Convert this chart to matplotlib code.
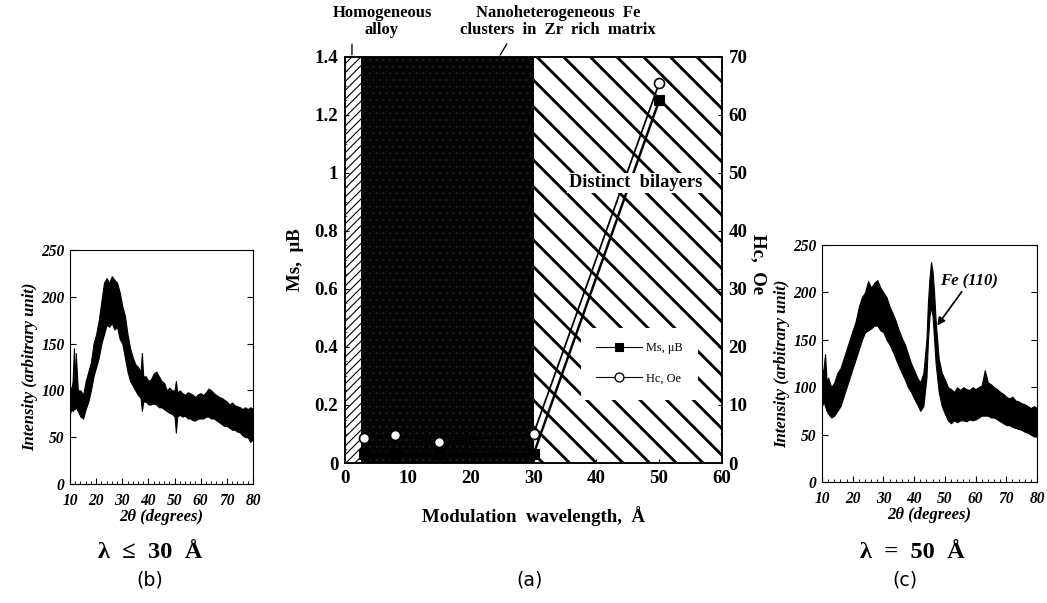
import matplotlib
matplotlib.use('Agg')
import matplotlib.pyplot as plt
from matplotlib.ticker import MultipleLocator
from matplotlib.lines import Line2D

# ---------------- data ----------------
region_edges = [0, 2.5, 30, 60]          # homogeneous | nanoheterogeneous | bilayers
wavelength = [3, 8, 15, 30, 50]          # modulation wavelength, Å
ms_values = [0.03, 0.03, 0.03, 0.03, 1.25]   # Ms, μB
hc_values = [4.3, 4.8, 3.6, 5.0, 65.5]       # Hc, Oe
x_ticks = [0, 10, 20, 30, 40, 50, 60]
ms_ticks = [0, 0.2, 0.4, 0.6, 0.8, 1.0, 1.2, 1.4]
ms_tick_labels = ['0', '0.2', '0.4', '0.6', '0.8', '1', '1.2', '1.4']
hc_ticks = [0, 10, 20, 30, 40, 50, 60, 70]

# XRD (b): lambda <= 30 A  -- noisy band, upper / lower envelope
b_x = [10, 10.5, 11, 11.5, 11.8, 12.2, 13, 14, 15, 16, 17, 18, 19, 20, 21, 22, 23, 24, 25, 26,
       27, 28, 29, 30, 31, 32, 33, 34, 35, 36, 37, 37.5, 38, 39, 40, 41, 42, 43, 44, 45,
       46, 47, 48, 49, 50, 50.5, 51, 52, 53, 54, 55, 56, 57, 58, 59, 60, 61, 62, 63, 64,
       65, 66, 67, 68, 69, 70, 71, 72, 73, 74, 75, 76, 77, 78, 79, 80]
b_up = [105, 100, 110, 145, 100, 140, 100, 100, 95, 110, 120, 130, 150, 160, 175, 195, 215, 220, 215, 222,
        218, 215, 205, 190, 180, 160, 145, 135, 128, 125, 120, 140, 115, 115, 110, 112, 118, 120, 115, 110,
        108, 100, 103, 100, 100, 110, 98, 100, 97, 95, 98, 97, 95, 93, 96, 97, 95, 98, 102, 100,
        97, 95, 93, 92, 90, 88, 85, 87, 84, 83, 82, 80, 82, 80, 82, 80]
b_lo = [75, 80, 78, 80, 80, 82, 78, 72, 70, 80, 88, 100, 115, 125, 135, 150, 160, 170, 168, 172,
        165, 168, 155, 150, 135, 120, 110, 105, 100, 95, 92, 78, 88, 88, 85, 85, 86, 85, 82, 82,
        80, 78, 76, 75, 72, 55, 72, 74, 72, 73, 70, 70, 68, 68, 70, 70, 70, 72, 72, 70,
        70, 68, 66, 64, 62, 62, 60, 58, 58, 56, 55, 52, 50, 50, 45, 48]

# XRD (c): lambda = 50 A
c_x = [10, 10.5, 11, 11.5, 12, 13, 14, 15, 16, 17, 18, 19, 20, 21, 22, 23, 24, 25, 26, 27,
       28, 29, 30, 31, 32, 33, 34, 35, 36, 37, 38, 39, 40, 41, 42, 43, 44, 44.5, 45, 45.5,
       46, 46.5, 47, 48, 49, 50, 51, 52, 53, 54, 55, 56, 57, 58, 59, 60, 61, 62, 63, 64,
       65, 66, 67, 68, 69, 70, 71, 72, 73, 74, 75, 76, 77, 78, 79, 80]
c_up = [110, 120, 135, 105, 110, 100, 105, 115, 120, 130, 140, 150, 160, 170, 185, 195, 200, 212, 205, 210,
        213, 205, 200, 195, 185, 178, 170, 160, 152, 145, 135, 125, 118, 110, 105, 115, 150, 190, 215, 232,
        222, 200, 170, 130, 115, 108, 100, 98, 95, 100, 97, 100, 98, 97, 100, 98, 100, 102, 118, 105,
        103, 100, 98, 95, 93, 90, 88, 90, 86, 85, 83, 82, 80, 78, 80, 78]
c_lo = [80, 85, 80, 75, 72, 68, 70, 75, 80, 90, 100, 110, 120, 130, 140, 150, 158, 160, 162, 165,
        165, 160, 158, 150, 145, 138, 130, 122, 115, 108, 100, 95, 88, 82, 75, 80, 110, 150, 175, 185,
        175, 150, 125, 95, 80, 72, 65, 62, 65, 63, 65, 65, 64, 66, 65, 66, 68, 70, 70, 70,
        68, 68, 66, 64, 62, 60, 60, 58, 57, 56, 55, 53, 52, 50, 48, 48]
xrd_x_ticks = [10, 20, 30, 40, 50, 60, 70, 80]
xrd_y_ticks = [0, 50, 100, 150, 200, 250]

# ---------------- figure ----------------
DPI = 80
W, H = 1047, 603
plt.rcParams['font.family'] = ['Liberation Serif', 'DejaVu Serif']
plt.rcParams['font.weight'] = 'bold'
plt.rcParams['axes.labelweight'] = 'bold'
plt.rcParams['axes.linewidth'] = 1.4
fig = plt.figure(figsize=(W / DPI, H / DPI), dpi=DPI)


def fr(x0, y_top, x1, y_bot):
    return [x0 / W, 1 - y_bot / H, (x1 - x0) / W, (y_bot - y_top) / H]


ax = fig.add_axes(fr(345, 57, 722, 463))
ax.set_xlim(region_edges[0], region_edges[-1])
ax.set_ylim(0, 1.4)


def span(a, b, face, hatch, hcol, hlw):
    with plt.rc_context({'hatch.linewidth': hlw}):
        p = ax.axvspan(a, b, facecolor=face, edgecolor=hcol, hatch=hatch, lw=0, zorder=0.5)
    try:
        p.set_hatch_linewidth(hlw)
    except Exception:
        pass
    return p


span(region_edges[0], region_edges[1], 'white', '///', 'black', 1.0)
span(region_edges[1], region_edges[2], '#040404', '..', '#262626', 0.5)
span(region_edges[2], region_edges[3], 'white', '\\', 'black', 2.6)

ax.plot(wavelength, ms_values, color='black', lw=2.2, marker='s', ms=9,
        mfc='black', mec='black', zorder=3, clip_on=False)
ax2 = ax.twinx()
ax2.set_ylim(0, 70)
ax2.plot(wavelength, hc_values, color='black', lw=1.6, marker='o', ms=9,
         mfc='white', mec='black', mew=1.5, zorder=3, clip_on=False)

ax.set_xticks(x_ticks)
ax.set_yticks(ms_ticks)
ax.set_yticklabels(ms_tick_labels)
ax2.set_yticks(hc_ticks)
for a in (ax, ax2):
    a.tick_params(direction='in', length=4, width=1, labelsize=17, pad=6)
ax.yaxis.set_minor_locator(MultipleLocator(0.05))
ax2.yaxis.set_minor_locator(MultipleLocator(2.5))
ax.tick_params(which='minor', direction='in', length=2)
ax2.tick_params(which='minor', direction='in', length=2)

ax.set_xlabel('Modulation  wavelength,  Å', fontsize=17, fontweight='bold')
ax.set_ylabel('Ms,  μB', fontsize=17, fontweight='bold')
ax2.set_ylabel('Hc,  Oe', fontsize=17, fontweight='bold', rotation=-90, va='center')
ax.xaxis.set_label_coords(0.5, -0.105)
ax.yaxis.set_label_coords(-0.108, 0.5)
ax2.yaxis.set_label_coords(1.095, 0.49)

handles = [Line2D([], [], color='black', lw=1, marker='s', ms=8, mfc='black'),
           Line2D([], [], color='black', lw=1, marker='o', ms=8, mfc='white', mew=1.2)]
leg = ax2.legend(handles, ['Ms, μB', 'Hc, Oe'], loc='center', bbox_to_anchor=(0.78, 0.245),
                 frameon=True, fancybox=False, framealpha=1, edgecolor='white',
                 prop={'family': 'Liberation Serif', 'weight': 'normal', 'size': 11},
                 handlelength=3.8, labelspacing=1.5, borderpad=1.2, handletextpad=0.3)
leg.set_zorder(5)

ax2.text(46.2, 0.966 * 50, 'Distinct  bilayers', ha='center', va='center', fontsize=16.5,
         zorder=6, bbox=dict(facecolor='white', edgecolor='none', pad=1.5))

fig.text(382 / W, 1 - 5 / H, 'Homogeneous\nalloy', ha='center', va='top', fontsize=15,
         linespacing=1.05)
fig.text(558 / W, 1 - 5 / H, 'Nanoheterogeneous  Fe\nclusters  in  Zr  rich  matrix',
         ha='center', va='top', fontsize=15, linespacing=1.05)
ax.annotate('', xy=(1.1, 1.4), xycoords='data', xytext=(352, H - 42), textcoords='figure pixels',
            arrowprops=dict(arrowstyle='-', lw=1.2, color='black'), annotation_clip=False)
ax.annotate('', xy=(24.5, 1.4), xycoords='data', xytext=(508, H - 42), textcoords='figure pixels',
            arrowprops=dict(arrowstyle='-', lw=1.2, color='black'), annotation_clip=False)

fig.text(530 / W, 1 - 580 / H, '(a)', ha='center', va='center', fontsize=17,
         family='DejaVu Sans', weight='normal')


def xrd(rect, x, lo, up):
    a = fig.add_axes(rect)
    a.fill_between(x, lo, up, color='black', lw=1.0, edgecolor='black')
    a.set_xlim(10, 80)
    a.set_ylim(0, 250)
    a.set_xticks(xrd_x_ticks)
    a.set_yticks(xrd_y_ticks)
    a.xaxis.set_minor_locator(MultipleLocator(2))
    a.tick_params(direction='in', length=5, width=1, labelsize=14, pad=3, right=True)
    a.tick_params(axis='x', pad=8)
    a.tick_params(axis='y', pad=5)
    a.tick_params(which='minor', direction='in', length=3, width=0.8)
    for lab in a.get_xticklabels() + a.get_yticklabels():
        lab.set_style('italic')
    for s in a.spines.values():
        s.set_linewidth(1.0)
    a.set_xlabel('2θ (degrees)', fontsize=15, style='italic', labelpad=0)
    a.set_ylabel('Intensity (arbitrary unit)', fontsize=15, style='italic', labelpad=3)
    return a


axb = xrd(fr(70, 250, 253, 484), b_x, b_lo, b_up)
axc = xrd(fr(822, 245, 1037, 482), c_x, c_lo, c_up)
axc.annotate('Fe (110)', xy=(47.5, 165), xytext=(48.5, 203), fontsize=15, style='italic',
             arrowprops=dict(arrowstyle='-|>', lw=1.6, color='black', mutation_scale=14,
                             shrinkA=0, shrinkB=0), ha='left', va='bottom')

fig.text(150 / W, 1 - 553 / H, 'λ  ≤  30  Å', ha='center', va='center', fontsize=22)
fig.text(150 / W, 1 - 580 / H, '(b)', ha='center', va='center', fontsize=17,
         family='DejaVu Sans', weight='normal')
fig.text(912 / W, 1 - 553 / H, 'λ  =  50  Å', ha='center', va='center', fontsize=22)
fig.text(905 / W, 1 - 580 / H, '(c)', ha='center', va='center', fontsize=17,
         family='DejaVu Sans', weight='normal')

fig.savefig('out.png', dpi=DPI)
